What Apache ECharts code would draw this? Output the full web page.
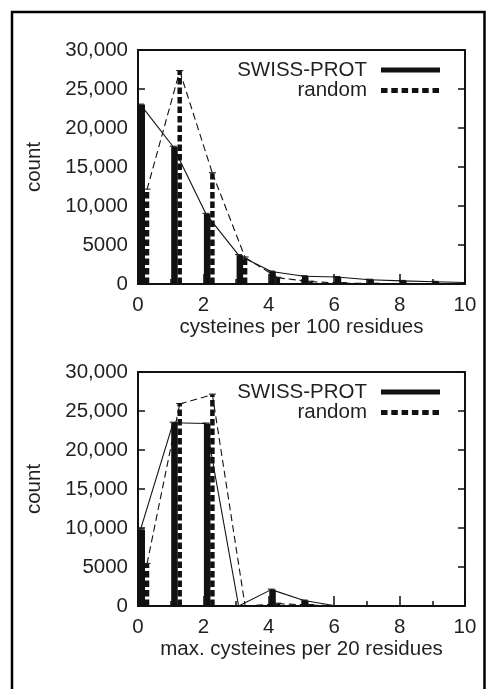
<!DOCTYPE html>
<html><head><meta charset="utf-8">
<script src="https://cdn.jsdelivr.net/npm/echarts@6/dist/echarts.min.js"></script>
<style>html,body{margin:0;padding:0;background:#fff}#c{width:486px;height:689px}</style>
</head><body><div id="c"></div>
<script>
// ---- data ----
const xValues = [0,1,2,3,4,5,6,7,8,9,10];
const topSwiss  = [23000,17600,9000,3700,1600,1000,900,550,400,280,180];
const topRandom = [12100,27300,14200,3400,800,300,120,40,10,0,0];
const botSwiss  = [9800,23500,23400,0,2100,700,0,0,0,0,0];
const botRandom = [5400,25900,27100,0,300,120,0,0,0,0,0];
const yTickLabels = ['0','5000','10,000','15,000','20,000','25,000','30,000'];
const xTickLabels = ['0','2','4','6','8','10'];
const topXTitle = 'cysteines per 100 residues';
const botXTitle = 'max. cysteines per 20 residues';
const yTitle = 'count';
const legendNames = ['SWISS-PROT','random'];

// ---- styling ----
const INK = '#111';
const TXT = '#231f20';
const FONT = "'Liberation Sans', Arial, sans-serif";
const FS = 20.5;
const grids = [
  {left:138, top:50, width:327, height:234},
  {left:138, top:372, width:327, height:234}
];

function makeRender(xs, ys, kind) {
  return function(params, api) {
    const i = params.dataIndex;
    const p = api.coord([xs[i], ys[i]]);
    const p0 = api.coord([xs[i], 0]);
    const children = [];
    const cs = params.coordSys;
    const right = cs.x + cs.width;
    const barOff = kind === 'swiss' ? 0.5 : 9;
    const vOff = kind === 'swiss' ? 2.5 : 9;
    if (ys[i] > 0 && p0[0] + 10 < right) {
      if (kind === 'swiss') {
        children.push({type:'rect', shape:{x:p0[0]+barOff, y:p[1], width:6.5, height:p0[1]-p[1]}, style:{fill:INK}});
      } else {
        children.push({type:'line', shape:{x1:p0[0]+barOff, y1:p0[1], x2:p0[0]+barOff, y2:p[1]},
          style:{stroke:INK, lineWidth:4.5, lineDash:[6.5,3]}});
      }
    }
    if (i < xs.length - 1) {
      const q = api.coord([xs[i+1], ys[i+1]]);
      const vx1 = p[0] + vOff, vx2 = Math.min(q[0] + vOff, right);
      let y2 = q[1];
      if (q[0] + vOff > right) {
        const t = (right - (p[0]+vOff)) / (q[0] - p[0]);
        y2 = p[1] + (q[1]-p[1]) * t;
      }
      children.push({type:'line', z2:5, shape:{x1:vx1, y1:p[1], x2:vx2, y2:y2},
        style:{stroke:INK, lineWidth:1.1, lineDash: kind === 'swiss' ? null : [7,4]}});
    }
    if (ys[i] > 0 && p0[0] + 10 < right) {
      children.push({type:'line', z2:6, shape:{x1:p[0]+vOff-3.5, y1:p[1]-0.5, x2:p[0]+vOff+3.5, y2:p[1]-0.5},
        style:{stroke:INK, lineWidth:1}});
    }
    return {type:'group', children};
  };
}

const xAxes = [], yAxes = [], series = [], graphics = [];
const panels = [
  {swiss: topSwiss, random: topRandom, title: topXTitle},
  {swiss: botSwiss, random: botRandom, title: botXTitle}
];
panels.forEach((pnl, g) => {
  const axLine = {show:true, onZero:false, lineStyle:{color:INK, width:2}};
  xAxes.push({gridIndex:g, type:'value', min:0, max:10, interval:2, position:'bottom',
    axisLine:axLine,
    axisTick:{show:true, inside:true, length:10, lineStyle:{color:INK, width:1.5}},
    minorTick:{show:true, splitNumber:2, length:5, lineStyle:{color:INK, width:1.5}},
    splitLine:{show:false},
    axisLabel:{color:TXT, fontSize:FS, fontFamily:FONT, margin:10.5, formatter:v => xTickLabels[Math.round(v/2)]},
    name:pnl.title, nameLocation:'middle', nameGap:25.5,
    nameTextStyle:{color:TXT, fontSize:FS, fontFamily:FONT}});
  xAxes.push({gridIndex:g, type:'value', min:0, max:10, position:'top',
    axisLine:axLine, axisTick:{show:false}, axisLabel:{show:false}, splitLine:{show:false}});
  yAxes.push({gridIndex:g, type:'value', min:0, max:30000, interval:5000, position:'left',
    axisLine:axLine,
    axisTick:{show:true, inside:true, length:7, lineStyle:{color:INK, width:1.5}},
    splitLine:{show:false},
    axisLabel:{color:TXT, fontSize:FS, fontFamily:FONT, margin:10, formatter:v => yTickLabels[Math.round(v/5000)]},
    name:yTitle, nameLocation:'middle', nameRotate:90, nameGap:93,
    nameTextStyle:{color:TXT, fontSize:FS, fontFamily:FONT}});
  yAxes.push({gridIndex:g, type:'value', min:0, max:30000, interval:5000, position:'right',
    axisLine:axLine,
    axisTick:{show:true, inside:true, length:7, lineStyle:{color:INK, width:1.5}},
    axisLabel:{show:false}, splitLine:{show:false}});
  const xi = g*2, yi = g*2;
  series.push({type:'custom', name:legendNames[0], xAxisIndex:xi, yAxisIndex:yi, clip:false,
    renderItem:makeRender(xValues, pnl.swiss, 'swiss'),
    data:xValues.map((x,i)=>[x, pnl.swiss[i]])});
  series.push({type:'custom', name:legendNames[1], xAxisIndex:xi, yAxisIndex:yi, clip:false,
    renderItem:makeRender(xValues, pnl.random, 'random'),
    data:xValues.map((x,i)=>[x, pnl.random[i]])});
  const top = grids[g].top;
  graphics.push({type:'text', left:null, x:367, y:top+20, style:{text:legendNames[0], fill:TXT, font:FS+'px '+FONT, textAlign:'right', textVerticalAlign:'middle'}});
  graphics.push({type:'line', shape:{x1:381, y1:top+20, x2:440, y2:top+20}, style:{stroke:INK, lineWidth:5}});
  graphics.push({type:'text', x:367, y:top+40.5, style:{text:legendNames[1], fill:TXT, font:FS+'px '+FONT, textAlign:'right', textVerticalAlign:'middle'}});
  graphics.push({type:'line', shape:{x1:381, y1:top+40.5, x2:440, y2:top+40.5}, style:{stroke:INK, lineWidth:5, lineDash:[6.5,3.8]}});
});
graphics.push({type:'rect', shape:{x:12, y:12, width:472.5, height:720}, style:{fill:'none', stroke:'#000', lineWidth:2.5}});

const chart = echarts.init(document.getElementById('c'), null, {renderer:'canvas'});
chart.setOption({
  animation:false,
  backgroundColor:'#fff',
  grid:grids,
  xAxis:xAxes,
  yAxis:yAxes,
  series:series,
  graphic:graphics
});
</script>
</body></html>
